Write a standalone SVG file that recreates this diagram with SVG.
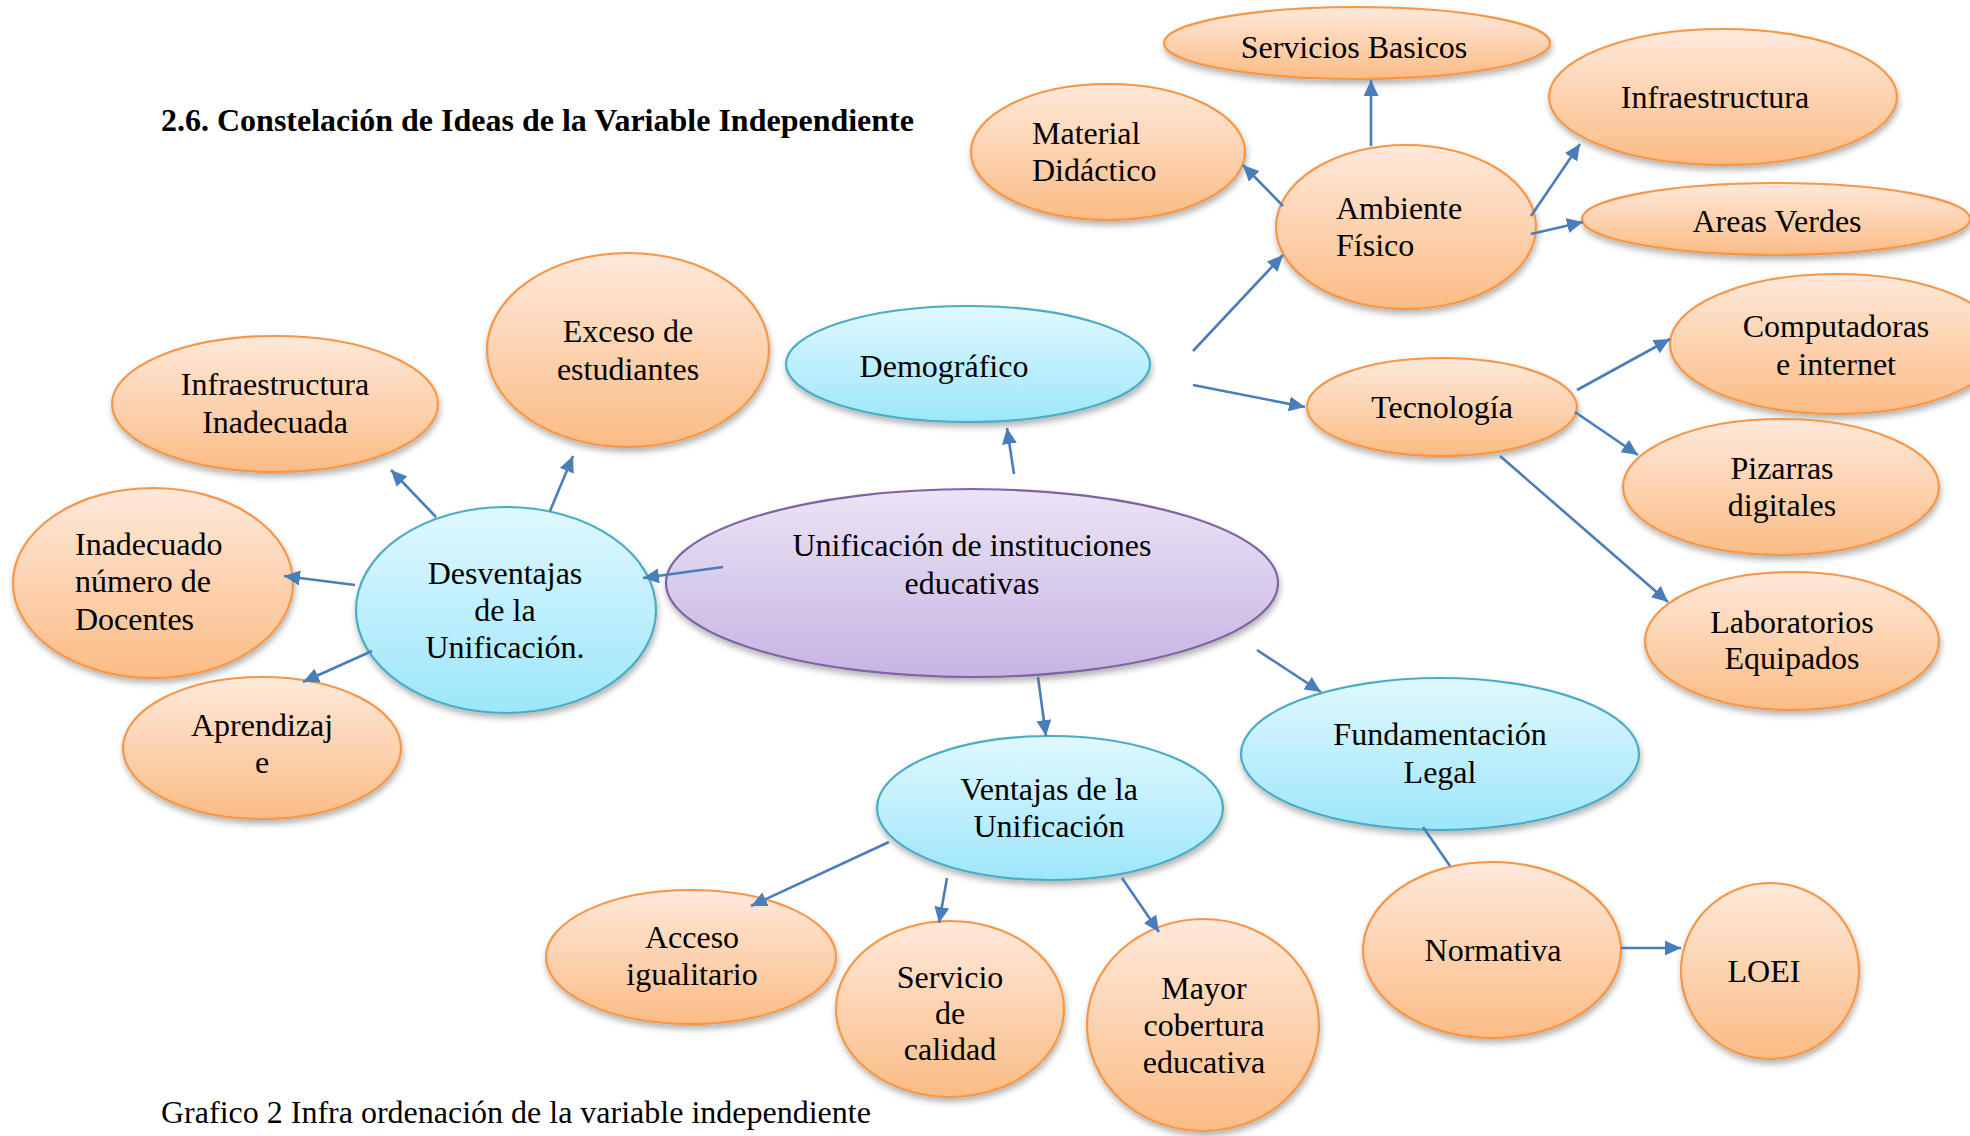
<svg xmlns="http://www.w3.org/2000/svg" width="1970" height="1136" viewBox="0 0 1970 1136">
<style>
text{font-family:"Liberation Serif","Times New Roman",serif;font-size:32px;fill:#000}
.t{text-anchor:middle}
.title{font-weight:bold}
.o{fill:url(#gO);stroke:#F79646;stroke-width:2.2;filter:url(#sh)}
.b{fill:url(#gB);stroke:#4BACC6;stroke-width:2.2;filter:url(#sh)}
.p{fill:url(#gP);stroke:#8064A2;stroke-width:2.2;filter:url(#sh)}
.c line{stroke:#4A7EBB;stroke-width:2.6;fill:none}
.c .a{marker-end:url(#ar)}
</style>
<defs>
<linearGradient id="gO" x1="0" y1="0" x2="0" y2="1"><stop offset="0" stop-color="#FEE9DB"/><stop offset="1" stop-color="#FBBC85"/></linearGradient>
<linearGradient id="gB" x1="0" y1="0" x2="0" y2="1"><stop offset="0" stop-color="#E0F8FE"/><stop offset="1" stop-color="#9DE6FA"/></linearGradient>
<linearGradient id="gP" x1="0" y1="0" x2="0" y2="1"><stop offset="0" stop-color="#EBE4F6"/><stop offset="1" stop-color="#C6B4E2"/></linearGradient>
<filter id="sh" x="-20%" y="-20%" width="140%" height="150%"><feDropShadow dx="1" dy="4" stdDeviation="3" flood-color="#000" flood-opacity="0.3"/></filter>
<marker id="ar" markerUnits="userSpaceOnUse" markerWidth="17" markerHeight="15" refX="16" refY="7.5" orient="auto"><path d="M0,0 L16,7.5 L0,15 z" fill="#4A7EBB"/></marker>
</defs>
<rect width="1970" height="1136" fill="#fff"/>
<text class="title" x="161" y="131">2.6. Constelación de Ideas de la Variable Independiente</text>
<text x="161" y="1123">Grafico 2 Infra ordenación de la variable independiente</text>

<g id="infra-inadecuada"><ellipse class="o" cx="275" cy="404" rx="163" ry="68"/><text class="t" x="275" y="395">Infraestructura</text><text class="t" x="275" y="433">Inadecuada</text></g>
<g id="exceso"><ellipse class="o" cx="628" cy="350" rx="141" ry="97"/><text class="t" x="628" y="342">Exceso de</text><text class="t" x="628" y="380">estudiantes</text></g>
<g id="demografico"><ellipse class="b" cx="968" cy="364" rx="182" ry="58"/><text class="t" x="944" y="377">Demográfico</text></g>
<g id="inadecuado"><ellipse class="o" cx="153" cy="583" rx="140" ry="95"/><text x="75" y="555">Inadecuado</text><text x="75" y="592">número de</text><text x="75" y="630">Docentes</text></g>
<g id="desventajas"><ellipse class="b" cx="506" cy="610" rx="150" ry="103"/><text class="t" x="505" y="584">Desventajas</text><text class="t" x="505" y="621">de la</text><text class="t" x="505" y="658">Unificación.</text></g>
<g id="unificacion"><ellipse class="p" cx="972" cy="583" rx="306" ry="94"/><text class="t" x="972" y="556">Unificación de instituciones</text><text class="t" x="972" y="594">educativas</text></g>
<g id="aprendizaje"><ellipse class="o" cx="262" cy="748" rx="139" ry="71"/><text class="t" x="262" y="736">Aprendizaj</text><text class="t" x="262" y="773">e</text></g>
<g id="ventajas"><ellipse class="b" cx="1050" cy="808" rx="173" ry="72"/><text class="t" x="1049" y="800">Ventajas de la</text><text class="t" x="1049" y="837">Unificación</text></g>
<g id="fundamentacion"><ellipse class="b" cx="1440" cy="754" rx="199" ry="76"/><text class="t" x="1440" y="745">Fundamentación</text><text class="t" x="1440" y="783">Legal</text></g>
<g id="acceso"><ellipse class="o" cx="691" cy="957" rx="145" ry="67"/><text class="t" x="692" y="948">Acceso</text><text class="t" x="692" y="985">igualitario</text></g>
<g id="servicio"><ellipse class="o" cx="950" cy="1009" rx="114" ry="88"/><text class="t" x="950" y="988">Servicio</text><text class="t" x="950" y="1024">de</text><text class="t" x="950" y="1060">calidad</text></g>
<g id="mayor"><ellipse class="o" cx="1203" cy="1025" rx="116" ry="106"/><text class="t" x="1204" y="999">Mayor</text><text class="t" x="1204" y="1036">cobertura</text><text class="t" x="1204" y="1073">educativa</text></g>
<g id="normativa"><ellipse class="o" cx="1492" cy="950" rx="129" ry="88"/><text class="t" x="1493" y="961">Normativa</text></g>
<g id="loei"><ellipse class="o" cx="1770" cy="971" rx="89" ry="88"/><text class="t" x="1764" y="982">LOEI</text></g>
<g id="laboratorios"><ellipse class="o" cx="1792" cy="641" rx="147" ry="69"/><text class="t" x="1792" y="633">Laboratorios</text><text class="t" x="1792" y="669">Equipados</text></g>
<g id="servicios-basicos"><ellipse class="o" cx="1357" cy="43" rx="193" ry="36"/><text class="t" x="1354" y="58">Servicios Basicos</text></g>
<g id="material"><ellipse class="o" cx="1108" cy="152" rx="137" ry="68"/><text x="1032" y="144">Material</text><text x="1032" y="181">Didáctico</text></g>
<g id="infraestructura"><ellipse class="o" cx="1723" cy="97" rx="174" ry="68"/><text class="t" x="1715" y="108">Infraestructura</text></g>
<g id="ambiente"><ellipse class="o" cx="1406" cy="227" rx="130" ry="82"/><text x="1336" y="219">Ambiente</text><text x="1336" y="256">Físico</text></g>
<g id="areas-verdes"><ellipse class="o" cx="1776" cy="219" rx="194" ry="36"/><text class="t" x="1777" y="232">Areas Verdes</text></g>
<g id="computadoras"><ellipse class="o" cx="1836" cy="344" rx="166" ry="70"/><text class="t" x="1836" y="337">Computadoras</text><text class="t" x="1836" y="375">e internet</text></g>
<g id="pizarras"><ellipse class="o" cx="1781" cy="487" rx="158" ry="68"/><text class="t" x="1782" y="479">Pizarras</text><text class="t" x="1782" y="516">digitales</text></g>
<g id="tecnologia"><ellipse class="o" cx="1442" cy="407" rx="135" ry="49"/><text class="t" x="1442" y="418">Tecnología</text></g>

<g id="connectors" class="c">
<line class="a" x1="436" y1="517" x2="391" y2="470"/>
<line class="a" x1="550" y1="511" x2="573" y2="456"/>
<line class="a" x1="1371" y1="146" x2="1371" y2="80"/>
<line class="a" x1="1283" y1="206" x2="1243" y2="165"/>
<line class="a" x1="1531" y1="216" x2="1580" y2="144"/>
<line class="a" x1="1531" y1="234" x2="1583" y2="222"/>
<line class="a" x1="1193" y1="351" x2="1283" y2="255"/>
<line class="a" x1="1193" y1="385" x2="1305" y2="407"/>
<line class="a" x1="1577" y1="390" x2="1670" y2="339"/>
<line class="a" x1="1575" y1="412" x2="1638" y2="455"/>
<line class="a" x1="1500" y1="456" x2="1668" y2="602"/>
<line class="a" x1="1014" y1="474" x2="1007" y2="428"/>
<line class="a" x1="723" y1="567" x2="643" y2="578"/>
<line class="a" x1="355" y1="585" x2="284" y2="576"/>
<line class="a" x1="372" y1="651" x2="303" y2="682"/>
<line class="a" x1="889" y1="842" x2="751" y2="906"/>
<line class="a" x1="947" y1="878" x2="939" y2="923"/>
<line class="a" x1="1122" y1="878" x2="1159" y2="932"/>
<line class="a" x1="1038" y1="677" x2="1046" y2="736"/>
<line class="a" x1="1257" y1="650" x2="1321" y2="692"/>
<line x1="1423" y1="827" x2="1450" y2="866"/>
<line class="a" x1="1621" y1="948" x2="1681" y2="948"/>
</g>
</svg>
